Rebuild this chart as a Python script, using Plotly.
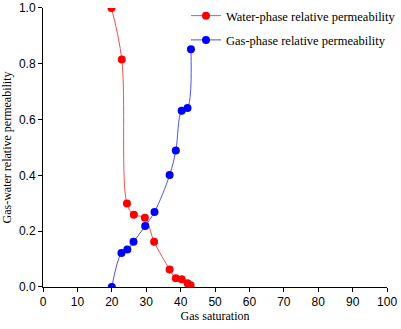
import plotly.graph_objects as go

# gas saturation (%) and relative permeability
water_sg = [19.9, 22.9, 24.4, 26.4, 29.6, 32.3, 36.8, 38.6, 40.3, 42.0, 42.9]
water_kr = [1.0, 0.815, 0.299, 0.259, 0.248, 0.162, 0.063, 0.031, 0.028, 0.013, 0.006]

gas_sg = [20.0, 22.8, 24.5, 26.3, 29.7, 32.4, 36.8, 38.6, 40.3, 42.0, 43.0]
gas_kr = [0.0, 0.122, 0.134, 0.162, 0.219, 0.269, 0.401, 0.489, 0.632, 0.642, 0.852]

serif = "Liberation Serif, Times New Roman, serif"
sans = "Liberation Sans, Arial, sans-serif"

fig = go.Figure()
fig.add_trace(go.Scatter(x=water_sg, y=water_kr, mode="lines+markers",
                         name="Water-phase relative permeability", legendgroup="w",
                         line=dict(color="#f05050", width=1, shape="spline"),
                         marker=dict(color="#ff0000", size=8)))
fig.add_trace(go.Scatter(x=gas_sg, y=gas_kr, mode="lines+markers",
                         name="Gas-phase relative permeability", legendgroup="g",
                         line=dict(color="#5050f0", width=1, shape="spline"),
                         marker=dict(color="#0000ff", size=8)))

# paper spans x 43..401 and y 0..287; axes domains leave the small top/right gap
fig.update_layout(
    width=401, height=329,
    margin=dict(l=43, r=0, t=0, b=42),
    paper_bgcolor="white", plot_bgcolor="white",
    showlegend=True,
    legend=dict(x=0.403, y=0.9965, xanchor="left", yanchor="top",
                font=dict(family=serif, size=12.5, color="black"),
                bgcolor="rgba(0,0,0,0)", tracegroupgap=5),
    xaxis=dict(range=[0, 100], dtick=10, domain=[0, 0.96927],
               showgrid=False, zeroline=False, automargin=False,
               showline=True, linecolor="black", linewidth=1,
               ticks="outside", ticklen=4, tickcolor="black",
               tickfont=dict(family=sans, size=12, color="black"),
               title=dict(text="Gas saturation", standoff=3,
                          font=dict(family=serif, size=12, color="black"))),
    yaxis=dict(range=[0, 1.0], dtick=0.2, tickformat=".1f", domain=[0, 0.97213],
               showgrid=False, zeroline=False, automargin=False,
               showline=True, linecolor="black", linewidth=1,
               ticks="outside", ticklen=4, tickcolor="black",
               tickfont=dict(family=sans, size=12, color="black"),
               title=dict(text="Gas-water relative permeability",
                          font=dict(family=serif, size=12, color="black"))),
)

# drop the page's default body margin so the figure sits at the window corner
fig.write_html("out.html", config={"displayModeBar": False},
               post_script="document.body.style.margin='0';")
